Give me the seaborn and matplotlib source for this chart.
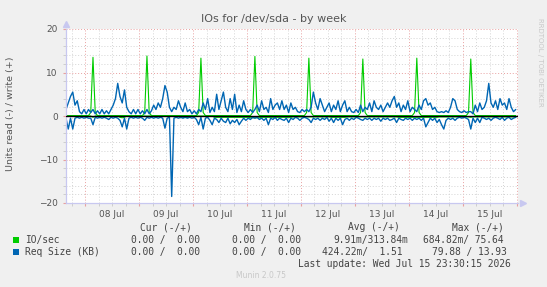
import pandas as pd
import seaborn as sns
import numpy as np
import matplotlib
import matplotlib.pyplot as plt
import matplotlib.dates as mdates
from matplotlib.ticker import MultipleLocator, FuncFormatter, NullFormatter

# hourly samples, 07 Jul 15:30 -> 15 Jul 23:30
times = pd.date_range("2026-07-07 15:30", periods=201, freq="h")

# IO/sec, write (+) and read (-, stored as magnitude)
io_write = [
    0.1, 0.1, 0.1, 0.1, 0.1, 0.1, 0.1, 0.1, 0.1, 0.1, 0.1, 0.8,
    13.5, 0.8, 0.1, 0.1, 0.1, 0.1, 0.1, 0.1, 0.1, 0.1, 0.1, 0.1,
    0.1, 0.1, 0.1, 0.1, 0.1, 0.1, 0.1, 0.1, 0.1, 0.1, 0.1, 0.8,
    13.8, 0.8, 0.1, 0.1, 0.1, 0.1, 0.1, 0.1, 0.1, 0.1, 0.1, 0.1,
    0.1, 0.1, 0.1, 0.1, 0.1, 0.1, 0.1, 0.1, 0.1, 0.1, 0.1, 0.8,
    13.3, 0.8, 0.1, 0.1, 0.1, 0.1, 0.1, 0.1, 0.1, 0.1, 0.1, 0.1,
    0.1, 0.1, 0.1, 0.1, 0.1, 0.1, 0.1, 0.1, 0.1, 0.1, 0.1, 0.8,
    13.7, 0.8, 0.1, 0.1, 0.1, 0.1, 0.1, 0.1, 0.1, 0.1, 0.1, 0.1,
    0.1, 0.1, 0.1, 0.1, 0.1, 0.1, 0.1, 0.1, 0.1, 0.1, 0.1, 0.8,
    13.3, 0.8, 0.1, 0.1, 0.1, 0.1, 0.1, 0.1, 0.1, 0.1, 0.1, 0.1,
    0.1, 0.1, 0.1, 0.1, 0.1, 0.1, 0.1, 0.1, 0.1, 0.1, 0.1, 0.8,
    13.1, 0.8, 0.1, 0.1, 0.1, 0.1, 0.1, 0.1, 0.1, 0.1, 0.1, 0.1,
    0.1, 0.1, 0.1, 0.1, 0.1, 0.1, 0.1, 0.1, 0.1, 0.1, 0.1, 0.8,
    13.3, 0.8, 0.1, 0.1, 0.1, 0.1, 0.1, 0.1, 0.1, 0.1, 0.1, 0.1,
    0.1, 0.1, 0.1, 0.1, 0.1, 0.1, 0.1, 0.1, 0.1, 0.1, 0.1, 0.8,
    13.1, 0.8, 0.1, 0.1, 0.1, 0.1, 0.1, 0.1, 0.1, 0.1, 0.1, 0.1,
    0.1, 0.1, 0.1, 0.1, 0.1, 0.1, 0.1, 0.1, 0.1,
]
io_read = [
    0.0, 0.0, 0.0, 0.0, 0.0, 0.0, 0.0, 0.0, 0.0, 0.0, 0.0, 0.0,
    0.3, 0.0, 0.0, 0.0, 0.0, 0.0, 0.0, 0.0, 0.0, 0.0, 0.0, 0.0,
    0.3, 0.4, 0.3, 0.0, 0.0, 0.0, 0.0, 0.0, 0.0, 0.0, 0.0, 0.0,
    0.0, 0.0, 0.0, 0.0, 0.0, 0.0, 0.0, 0.0, 0.0, 0.0, 0.0, 0.0,
    0.0, 0.0, 0.0, 0.0, 0.3, 0.3, 0.3, 0.0, 0.0, 0.0, 0.0, 0.0,
    0.0, 0.0, 0.0, 0.0, 0.0, 0.0, 0.3, 0.3, 0.3, 0.3, 0.3, 0.3,
    0.3, 0.3, 0.3, 0.3, 0.3, 0.3, 0.3, 0.3, 0.3, 0.3, 0.4, 0.4,
    0.4, 0.4, 0.4, 0.3, 0.3, 0.3, 0.3, 0.3, 0.3, 0.3, 0.3, 0.3,
    0.3, 0.3, 0.3, 0.3, 0.3, 0.2, 0.2, 0.2, 0.2, 0.2, 0.2, 0.2,
    0.2, 0.2, 0.2, 0.2, 0.2, 0.2, 0.2, 0.2, 0.2, 0.2, 0.3, 0.3,
    0.3, 0.3, 0.3, 0.3, 0.3, 0.2, 0.2, 0.2, 0.2, 0.2, 0.2, 0.2,
    0.2, 0.2, 0.2, 0.2, 0.2, 0.2, 0.2, 0.2, 0.2, 0.2, 0.2, 0.2,
    0.2, 0.2, 0.2, 0.2, 0.3, 0.3, 0.3, 0.3, 0.3, 0.3, 0.3, 0.3,
    0.3, 0.3, 0.3, 0.3, 0.3, 0.3, 0.3, 0.3, 0.3, 0.3, 0.2, 0.2,
    0.2, 0.2, 0.2, 0.2, 0.2, 0.2, 0.2, 0.2, 0.2, 0.2, 0.2, 0.2,
    0.3, 0.2, 0.2, 0.2, 0.2, 0.2, 0.2, 0.2, 0.2, 0.2, 0.2, 0.2,
    0.2, 0.2, 0.2, 0.2, 0.2, 0.2, 0.2, 0.2, 0.2,
]

# Req Size (KB), write (+) and read (-, stored as magnitude)
req_write = [
    1.5, 3.0, 4.5, 5.5, 2.5, 3.5, 1.0, 0.5, 1.5, 0.5, 1.5, 0.8,
    1.5, 0.5, 1.2, 0.5, 1.5, 0.5, 1.2, 0.5, 1.5, 2.5, 4.0, 7.5,
    4.5, 3.0, 6.0, 2.0, 1.0, 0.5, 1.5, 0.5, 1.5, 0.5, 1.2, 0.5,
    1.5, 0.5, 1.2, 2.5, 1.5, 3.0, 2.0, 4.0, 7.0, 5.5, 2.0, 1.0,
    2.0, 1.5, 3.5, 2.0, 1.0, 3.0, 1.0, 1.5, 0.5, 1.2, 0.5, 1.5,
    1.0, 3.0, 1.5, 4.0, 0.8, 2.0, 1.0, 5.0, 1.5, 3.5, 5.5, 2.0,
    1.0, 4.0, 1.5, 5.0, 0.8, 2.5, 1.0, 3.5, 1.5, 0.8, 1.5, 0.8,
    1.5, 2.5, 1.0, 3.5, 1.5, 2.0, 0.8, 4.0, 1.5, 2.5, 3.0, 1.5,
    3.5, 1.5, 2.5, 0.8, 3.0, 1.5, 2.0, 1.0, 0.8, 1.5, 1.0, 1.5,
    1.0, 2.0, 5.5, 3.0, 1.5, 4.0, 2.5, 1.0, 2.0, 3.0, 1.0, 2.5,
    1.5, 3.5, 1.0, 2.5, 3.5, 1.0, 2.0, 1.0, 0.8, 1.5, 0.8, 2.5,
    1.0, 2.0, 1.5, 3.0, 1.0, 3.5, 2.0, 1.5, 2.5, 1.0, 2.0, 3.0,
    2.0, 3.5, 4.5, 2.0, 3.0, 1.0, 2.5, 1.5, 3.5, 1.0, 2.0, 1.5,
    1.0, 2.5, 1.5, 3.5, 4.0, 2.5, 3.0, 1.5, 2.0, 1.0, 0.8, 1.0,
    0.8, 1.2, 0.8, 2.0, 4.0, 3.5, 1.5, 1.0, 0.8, 1.2, 0.8, 1.0,
    1.0, 0.5, 2.5, 1.0, 3.0, 1.5, 2.0, 3.5, 7.5, 3.0, 2.0, 3.5,
    1.5, 4.0, 2.5, 3.0, 1.5, 4.0, 2.0, 1.0, 1.5,
]
req_read = [
    0.5, 3.0, 0.5, 3.0, 0.5, 0.3, 0.5, 0.3, 0.5, 0.3, 0.5, 0.5,
    2.0, 0.3, 0.5, 0.3, 0.5, 0.3, 0.5, 0.8, 0.3, 0.5, 0.3, 0.5,
    1.0, 2.5, 0.5, 3.0, 0.5, 0.3, 0.5, 0.3, 0.5, 0.3, 0.5, 1.0,
    0.3, 0.5, 0.3, 0.5, 0.3, 0.5, 0.3, 0.5, 2.8, 0.5, 0.3, 18.5,
    0.5, 0.3, 0.5, 0.3, 0.5, 0.3, 0.5, 0.3, 0.5, 0.3, 0.8, 2.0,
    0.3, 3.0, 0.5, 0.3, 1.0, 2.0, 0.5, 0.8, 1.5, 0.5, 1.2, 1.5,
    0.5, 1.8, 1.0, 1.5, 0.8, 2.0, 1.2, 0.5, 1.0, 0.5, 0.8, 0.3,
    0.5, 0.3, 0.8, 0.5, 1.0, 0.5, 2.0, 0.5, 0.8, 0.3, 1.0, 0.5,
    0.8, 1.0, 0.5, 1.5, 0.5, 0.8, 0.3, 0.5, 1.0, 0.5, 0.3, 0.5,
    0.8, 1.5, 0.5, 0.8, 0.5, 1.0, 0.5, 0.8, 0.3, 1.2, 0.5, 1.5,
    0.5, 1.0, 0.5, 2.0, 0.8, 0.5, 1.0, 0.5, 0.8, 0.3, 0.5, 0.8,
    1.0, 0.5, 0.8, 0.5, 1.0, 0.5, 0.8, 0.5, 1.2, 0.5, 0.8, 0.5,
    1.0, 0.8, 0.5, 1.5, 0.5, 0.8, 1.0, 0.5, 0.8, 0.5, 1.0, 0.5,
    0.8, 0.5, 1.0, 0.5, 2.5, 1.5, 0.5, 1.0, 0.5, 1.5, 0.8, 2.0,
    3.0, 1.0, 0.5, 0.8, 0.5, 1.0, 0.5, 0.3, 0.5, 0.3, 0.5, 0.8,
    3.0, 0.5, 1.5, 0.5, 1.5, 0.3, 0.5, 0.8, 0.5, 1.0, 0.5, 0.3,
    0.5, 0.8, 0.3, 1.0, 0.5, 0.3, 0.8, 0.5, 0.3,
]

GREEN = "#00cc00"
BLUE = "#0066b3"
TXT = "#555555"

df = pd.DataFrame({
    "time": times,
    "io_w": io_write,
    "io_r": -np.array(io_read),
    "rq_w": req_write,
    "rq_r": -np.array(req_read),
})

sns.set_style("white")
matplotlib.rcParams["font.family"] = "DejaVu Sans"

fig = plt.figure(figsize=(5.47, 2.87), dpi=100, facecolor="#f0f0f0")
ax = fig.add_axes([66 / 547, 1 - 203 / 287, 452 / 547, 174 / 287])
ax.set_facecolor("white")

sns.lineplot(data=df, x="time", y="io_r", ax=ax, color=GREEN, linewidth=0.8)
sns.lineplot(data=df, x="time", y="io_w", ax=ax, color=GREEN, linewidth=0.8)
sns.lineplot(data=df, x="time", y="rq_r", ax=ax, color=BLUE, linewidth=1.0)
sns.lineplot(data=df, x="time", y="rq_w", ax=ax, color=BLUE, linewidth=1.0)
ax.axhline(0, color="black", linewidth=1.0, zorder=5)

ax.set_xlim(pd.Timestamp("2026-07-07 15:30"), pd.Timestamp("2026-07-16 00:30"))
ax.set_ylim(-20, 20)

ax.xaxis.set_major_locator(mdates.DayLocator())
ax.xaxis.set_major_formatter(NullFormatter())
ax.xaxis.set_minor_locator(mdates.HourLocator(byhour=[0, 6, 12, 18]))
ax.xaxis.set_minor_formatter(FuncFormatter(
    lambda v, p: mdates.num2date(v).strftime("%d %b") if mdates.num2date(v).hour == 12 else ""))
ax.yaxis.set_major_locator(MultipleLocator(10))
ax.yaxis.set_minor_locator(MultipleLocator(2))

ax.grid(True, which="minor", color="#d4d4d4", linestyle=(0, (1, 2)), linewidth=0.7)
ax.grid(True, which="major", color="#e8a0a0", linestyle=(0, (1, 2)), linewidth=0.7)
ax.set_axisbelow(True)

ax.tick_params(axis="x", which="both", length=2, pad=3, labelsize=6.5, labelcolor=TXT)
ax.tick_params(axis="x", which="major", color="#e8a0a0", bottom=True)
ax.tick_params(axis="x", which="minor", color="#c8c8c8", bottom=True)
ax.tick_params(axis="y", which="both", length=2, pad=4, labelsize=6.5, labelcolor=TXT, left=True)
ax.tick_params(axis="y", which="major", color="#e8a0a0")
ax.tick_params(axis="y", which="minor", color="#c8c8c8")

for s in ["top", "right"]:
    ax.spines[s].set_visible(False)
for s in ["left", "bottom"]:
    ax.spines[s].set_color("#c8c8f0")
    ax.spines[s].set_linewidth(0.9)
ax.plot([0], [1.03], marker="^", color="#c8c8f0", markersize=4, transform=ax.transAxes, clip_on=False)
ax.plot([1.01], [0], marker=">", color="#c8c8f0", markersize=4, transform=ax.transAxes, clip_on=False)

ax.set_xlabel("")
ax.set_ylabel("")
fig.text(11 / 547, 1 - 114 / 287, "Units read (-) / write (+)", rotation=90,
         ha="center", va="center", fontsize=6.8, color=TXT)
fig.text(274 / 547, 1 - 19 / 287, "IOs for /dev/sda - by week",
         ha="center", va="center", fontsize=8, color=TXT)
fig.text(540 / 547, 1 - 18 / 287, "RRDTOOL / TOBI OETIKER", rotation=270,
         ha="center", va="top", fontsize=5, color="#c8c8c8")

mono = dict(family="DejaVu Sans Mono", fontsize=6.9, color="#444444", va="center")
fig.text(140 / 547, 1 - 227 / 287, "Cur (-/+)", **mono)
fig.text(244 / 547, 1 - 227 / 287, "Min (-/+)", **mono)
fig.text(348 / 547, 1 - 227 / 287, "Avg (-/+)", **mono)
fig.text(452 / 547, 1 - 227 / 287, "Max (-/+)", **mono)

rows = [
    ("IO/sec", GREEN, 240, "0.00 /  0.00", "0.00 /  0.00", "9.91m/313.84m", 333, "684.82m/ 75.64", 423),
    ("Req Size (KB)", BLUE, 252, "0.00 /  0.00", "0.00 /  0.00", "424.22m/  1.51", 322, "79.88 / 13.93", 432),
]
for name, col, y, cur, mn, avg, xavg, mx, xmx in rows:
    yf = 1 - y / 287
    fig.patches.append(matplotlib.patches.Rectangle(
        (13 / 547, yf - 3 / 287), 6 / 547, 6 / 287, transform=fig.transFigure,
        facecolor=col, edgecolor="none"))
    fig.text(25 / 547, yf, name, **mono)
    fig.text(131 / 547, yf, cur, **mono)
    fig.text(232 / 547, yf, mn, **mono)
    fig.text(xavg / 547, yf, avg, **mono)
    fig.text(xmx / 547, yf, mx, **mono)

fig.text(298 / 547, 1 - 264 / 287, "Last update: Wed Jul 15 23:30:15 2026", **mono)
fig.text(261 / 547, 1 - 276 / 287, "Munin 2.0.75", ha="center", va="center",
         fontsize=5.5, color="#c8c8c8")

fig.savefig("out.png", dpi=100, facecolor=fig.get_facecolor())
